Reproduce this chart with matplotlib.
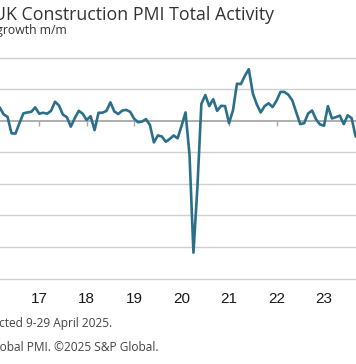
import matplotlib
matplotlib.use("Agg")
import matplotlib.pyplot as plt
import numpy as np

# Monthly UK Construction PMI Total Activity, Jan 2016 onwards
pmi_2016 = [55.0, 54.2, 54.2, 52.0, 51.2, 46.0, 45.9, 49.2, 52.3, 52.6, 52.8, 54.2]
pmi_2017 = [52.2, 52.5, 52.2, 53.1, 56.0, 54.8, 51.9, 51.1, 48.1, 50.8, 53.1, 52.2]
pmi_2018 = [50.2, 51.4, 47.0, 52.5, 52.5, 53.1, 55.8, 52.9, 52.1, 53.2, 53.4, 52.8]
pmi_2019 = [50.6, 49.5, 49.7, 50.5, 48.6, 43.1, 45.3, 45.0, 43.3, 44.2, 45.3, 44.4]
pmi_2020 = [48.4, 52.6, 39.3, 8.2, 28.9, 55.3, 58.1, 54.6, 56.8, 53.1, 54.7, 54.6]
pmi_2021 = [49.2, 53.3, 61.7, 61.6, 64.2, 66.3, 58.7, 55.2, 52.6, 54.6, 55.5, 54.3]
pmi_2022 = [56.3, 59.1, 59.1, 58.2, 56.4, 52.6, 48.9, 49.2, 52.3, 53.2, 50.4, 48.8]
pmi_2023 = [48.4, 54.6, 50.7, 51.1, 51.6, 48.9, 51.7, 50.8, 45.0, 45.6, 45.5, 46.8]

year_labels = ["17", "18", "19", "20", "21", "22", "23"]

values = np.array(pmi_2016 + pmi_2017 + pmi_2018 + pmi_2019 +
                  pmi_2020 + pmi_2021 + pmi_2022 + pmi_2023)
months = np.arange(len(values))  # months since Jan 2016
year_ticks = (np.arange(len(year_labels)) + 1) * 12

W, H = 356, 364
fig = plt.figure(figsize=(W / 100, H / 100), dpi=100)

# axes geometry (pixels): value 0 at y=278.5, 10 units = 31.57 px
px_per_unit = 3.157
y0 = 278.5
ymin, ymax = -3, 73
bot_px = y0 + (0 - ymin) * px_per_unit
top_px = y0 - ymax * px_per_unit
ax = fig.add_axes([0, (H - bot_px) / H, 1, (bot_px - top_px) / H])

for v in range(0, 71, 10):
    if v == 50:
        continue
    ax.axhline(v, color="#cfcfcf", lw=1.0, zorder=1)

ax.plot(months, values, color="#2b6f8b", lw=1.9, zorder=3,
        solid_joinstyle="round")

for s in ["top", "left", "right"]:
    ax.spines[s].set_visible(False)
ax.spines["bottom"].set_position(("data", 50))
ax.spines["bottom"].set_color("#a8a8a8")
ax.spines["bottom"].set_linewidth(1.3)
ax.spines["bottom"].set_zorder(2)
ax.set_yticks([])
ax.set_xticks(year_ticks)
ax.tick_params(axis="x", direction="out", length=3.5, width=1.0,
               color="#a8a8a8", labelbottom=False)

sec = ax.secondary_xaxis(location=0)
sec.set_xticks(year_ticks)
sec.set_xticklabels(year_labels)
sec.spines["bottom"].set_visible(False)
sec.tick_params(axis="x", length=0, pad=3, labelsize=11, labelcolor="#1a1a1a")
for lab in sec.get_xticklabels():
    lab.set_fontfamily("Liberation Sans")

ax.set_ylim(ymin, ymax)
ax.set_xlim(2.09, 92.1)

fig.text(274 / W, (H - 20) / H, "UK Construction PMI Total Activity",
         ha="right", va="baseline", fontsize=12.8, color="#333333",
         fontfamily="Open Sans")
fig.text(67 / W, (H - 34) / H, "sa, >50 = growth m/m",
         ha="right", va="baseline", fontsize=8.8, color="#333333",
         fontfamily="Open Sans")
fig.text(112 / W, (H - 327) / H, "Data were collected 9-29 April 2025.",
         ha="right", va="baseline", fontsize=8.6, color="#444444",
         fontfamily="Open Sans")
fig.text(159 / W, (H - 351) / H, "Source: S&P Global PMI. ©2025 S&P Global.",
         ha="right", va="baseline", fontsize=8.6, color="#444444",
         fontfamily="Open Sans")

fig.savefig("out.png", dpi=100, facecolor="white")
